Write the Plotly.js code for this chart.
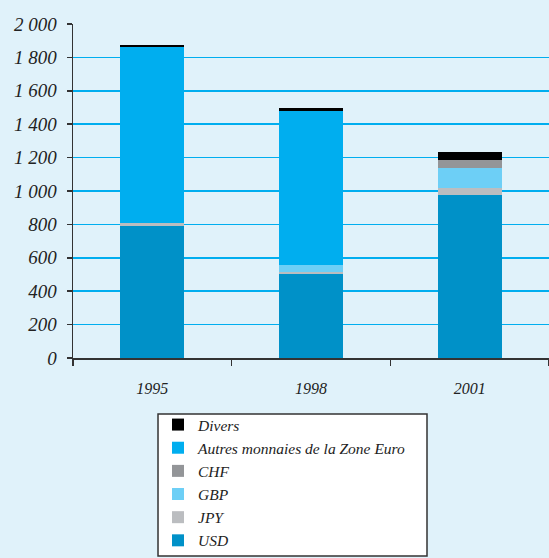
<!DOCTYPE html>
<html><head><meta charset="utf-8">
<script src="https://cdn.plot.ly/plotly-3.0.1.min.js"></script>
<style>html,body{margin:0;padding:0;background:#e0f2fa;}#chart{width:549px;height:558px;}</style>
</head><body><div id="chart"></div>
<script>
const years = ['1995', '1998', '2001'];
const usd = [788, 503, 976];
const jpy = [20, 12, 42];
const gbp = [0, 42, 120];
const chf = [0, 0, 48];
const autres = [1052, 922, 0];
const divers = [14, 18, 48];

const seriesNames = ['USD', 'JPY', 'GBP', 'CHF', 'Autres monnaies de la Zone Euro', 'Divers'];
const seriesValues = [usd, jpy, gbp, chf, autres, divers];
const seriesColors = ['#0091c8', '#bbbdc0', '#6dcff6', '#939598', '#00aeef', '#000000'];

const traces = seriesNames.map((n, i) => ({
  type: 'bar', name: n, x: years, y: seriesValues[i],
  marker: {color: seriesColors[i], line: {width: 0}},
  width: 0.405, hoverinfo: 'skip'
}));

const fontFam = '"Liberation Serif", "DejaVu Serif", serif';
const layout = {
  width: 549, height: 558,
  paper_bgcolor: '#e0f2fa', plot_bgcolor: '#e0f2fa',
  margin: {l: 73, r: 0, t: 24, b: 200, autoexpand: false},
  barmode: 'stack',
  separators: ', ',
  font: {family: fontFam, color: '#222', size: 16, style: 'italic'},
  showlegend: true,
  legend: {
    x: 0.1786, y: -0.1497, xanchor: 'left', yanchor: 'top',
    traceorder: 'reversed', bgcolor: 'rgba(0,0,0,0)', borderwidth: 0,
    font: {family: fontFam, size: 15.5, color: '#222', style: 'italic'}
  },
  shapes: [{
    type: 'rect', xref: 'paper', yref: 'paper', layer: 'above',
    x0: 0.1786, x1: 0.7437, y0: -0.5928, y1: -0.1677,
    fillcolor: '#ffffff', line: {color: '#333', width: 1.5}
  }],
  xaxis: {
    type: 'category', showgrid: false, showline: true, linecolor: '#333', linewidth: 1.5,
    ticks: 'outside', tickson: 'boundaries', ticklen: 6, tickcolor: '#333', tickwidth: 1.5,
    ticklabelstandoff: 15,
    tickfont: {family: fontFam, size: 16, color: '#222', style: 'italic'}
  },
  yaxis: {
    range: [0, 2000], dtick: 200, tick0: 0, separatethousands: true,
    showgrid: true, gridcolor: '#00aeef', gridwidth: 1.5,
    showline: true, linecolor: '#333', linewidth: 1.5,
    ticks: 'outside', ticklen: 5, tickcolor: '#333', tickwidth: 1.5,
    ticklabelstandoff: 6, zeroline: false,
    tickfont: {family: fontFam, size: 19, color: '#222', style: 'italic'}
  }
};
Plotly.newPlot('chart', traces, layout, {displayModeBar: false, staticPlot: true});
</script></body></html>
